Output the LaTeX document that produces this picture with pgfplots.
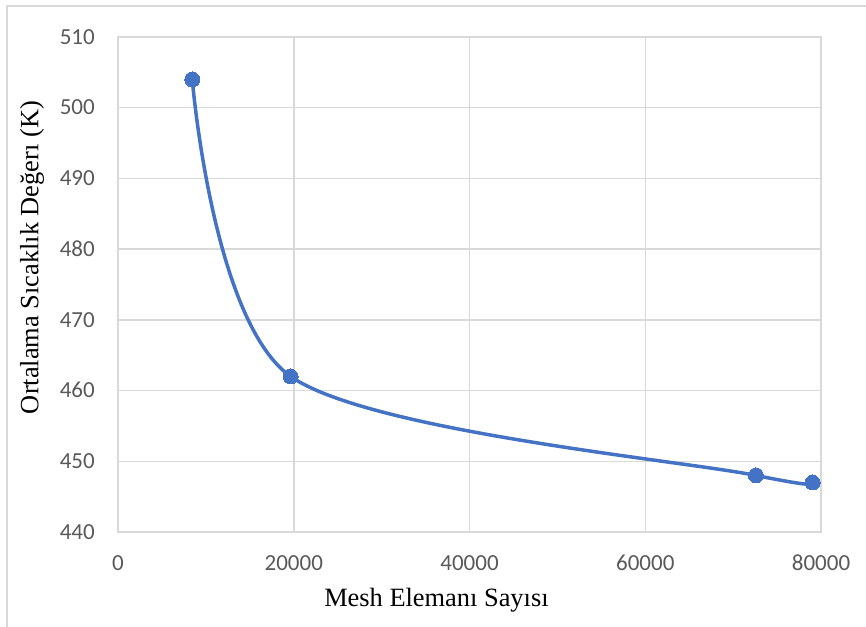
\documentclass[border=0pt]{standalone}
\usepackage{fontspec}
\setmainfont{Liberation Serif}
\newfontfamily\calibri{Carlito}
\usepackage{pgfplots}
\pgfplotsset{compat=1.18}
\definecolor{gridgray}{HTML}{D9D9D9}
\definecolor{tickgray}{HTML}{595959}
\definecolor{xlblue}{HTML}{4472C4}
\begin{document}
\begin{tikzpicture}
\useasboundingbox (0bp,0bp) rectangle (866bp,627bp);
\draw[gridgray, line width=1.5bp] (7bp,0bp) -- (7bp,621bp) -- (866bp,621bp);
\begin{axis}[
  at={(118bp,95bp)}, anchor=south west,
  scale only axis, width=703bp, height=495bp,
  xmin=0, xmax=80000, ymin=440, ymax=510,
  xtick={0,20000,40000,60000,80000}, ytick={440,450,460,470,480,490,500,510},
  grid=major, grid style={gridgray, line width=1.5bp},
  axis line style={gridgray, line width=1.5bp},
  major tick length=0pt,
  scaled x ticks=false,
  /pgf/number format/1000 sep={},
  /pgf/number format/assume math mode=true,
  ticklabel style={font=\calibri\fontsize{23bp}{28bp}\selectfont, text=tickgray, inner sep=0pt, text height=14.5bp, text depth=0pt},
  xticklabel style={anchor=north, yshift=-24bp},
  yticklabel style={anchor=east, xshift=-23bp},
  xlabel={Mesh Elemanı Sayısı},
  ylabel={Ortalama Sıcaklık Değerı (K)},
  label style={font=\fontsize{26.4bp}{30bp}\selectfont, inner sep=0pt},
  xlabel style={at={(axis description cs:0.453,0)}, anchor=base, yshift=-74.7bp},
  ylabel style={at={(axis description cs:-0.1131,0.5545)}, anchor=base},
  clip=false,
]
\addplot[xlblue, line width=3.5bp, smooth, mark=*, mark size=7.5bp, mark options={solid, fill=xlblue, draw=xlblue, line width=0pt}] coordinates {(8450,504) (19650,462) (72600,448) (79050,447)};
\end{axis}
\end{tikzpicture}
\end{document}
